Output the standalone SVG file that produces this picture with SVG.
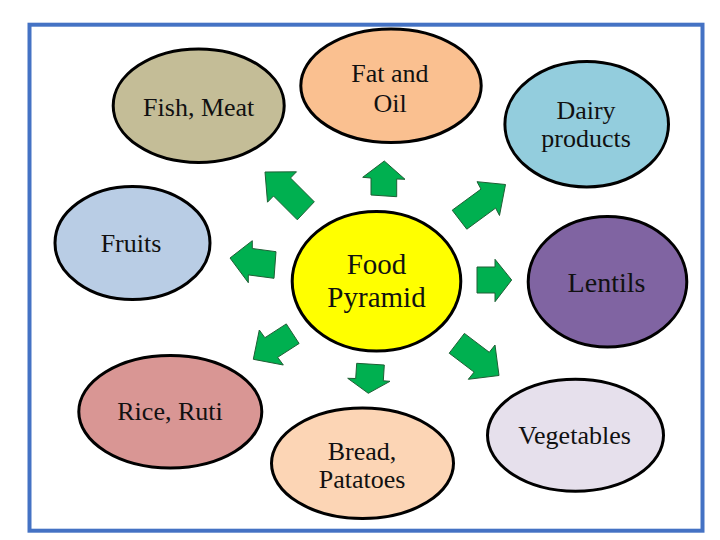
<svg xmlns="http://www.w3.org/2000/svg" width="720" height="540" viewBox="0 0 720 540">
<style>
.node{stroke:#000;stroke-width:3}
.t{font-size:26px;fill:#111;text-anchor:middle}
.big{font-size:29px}
.arr{fill:#00B050;stroke:#1F5F35;stroke-width:1;stroke-linejoin:miter}
</style>
<rect x="0" y="0" width="720" height="540" fill="#fff"/>
<rect x="29.5" y="24.7" width="673" height="506" fill="none" stroke="#4472C4" stroke-width="4"/>
<g id="connectors">
<polygon class="arr" points="384.3,161 405,179.3 396.7,179 396.7,196.7 371,195 371,178 362.7,177.3"/>
<polygon class="arr" points="265,172 296.5,171.8 290.5,178 314.3,201.8 297.3,219.8 273.5,196 267.5,202.2"/>
<polygon class="arr" points="505.5,184.5 499.5,215.5 495.6,208.1 466.8,229.2 452.2,210.2 481,189.1 477,181.7"/>
<polygon class="arr" points="230,258 252.3,240.7 252.3,248.5 276,251.7 274,278.3 248.3,274.9 248.3,282.7"/>
<polygon class="arr" points="511.7,280 495,301.7 495,293 477,293 477,267 495,267 495,259.3"/>
<polygon class="arr" points="253.3,359.3 259.3,330 264.9,337.7 286.3,323.9 299.1,343.5 277.7,357.3 283.3,365"/>
<polygon class="arr" points="368.3,393.3 347.7,378.3 355.7,378.5 356.7,363.3 384.3,365 383.3,380.8 390,381.3"/>
<polygon class="arr" points="499,375.5 468.3,379.3 474.1,372.1 449.2,353.2 464.4,333.4 489.3,352.3 495,345"/>
</g>
<g font-family="'Liberation Serif', 'DejaVu Serif', 'Times New Roman', serif">
<g id="fish"><ellipse class="node" cx="198.7" cy="105.7" rx="85.5" ry="56.8" fill="#C4BD97"/><text class="t" x="198.7" y="115.5">Fish, Meat</text></g>
<g id="fat"><ellipse class="node" cx="391" cy="85.7" rx="90.2" ry="56.8" fill="#FAC090"/><text class="t" x="390" y="82">Fat and</text><text class="t" x="390" y="111.5">Oil</text></g>
<g id="dairy"><ellipse class="node" cx="586.7" cy="124.2" rx="81.8" ry="62.7" fill="#93CDDD"/><text class="t" x="586" y="119">Dairy</text><text class="t" x="586" y="147">products</text></g>
<g id="fruits"><ellipse class="node" cx="132.5" cy="243" rx="77.5" ry="56.5" fill="#B9CDE5"/><text class="t" x="131" y="252">Fruits</text></g>
<g id="food"><ellipse class="node" cx="376.5" cy="281.3" rx="84.3" ry="69.8" fill="#FFFF00"/><text class="t big" x="376.5" y="274">Food</text><text class="t big" x="376.5" y="307.3">Pyramid</text></g>
<g id="lentils"><ellipse class="node" cx="607.5" cy="281.7" rx="79.3" ry="65.2" fill="#8064A2"/><text class="t" x="606.5" y="292" style="font-size:28px">Lentils</text></g>
<g id="rice"><ellipse class="node" cx="170.3" cy="411.7" rx="91.5" ry="56.2" fill="#D99694"/><text class="t" x="170" y="420">Rice, Ruti</text></g>
<g id="bread"><ellipse class="node" cx="362.5" cy="463.3" rx="91" ry="55.2" fill="#FCD5B5"/><text class="t" x="362" y="460">Bread,</text><text class="t" x="362" y="488.3">Patatoes</text></g>
<g id="veg"><ellipse class="node" cx="575.5" cy="435.2" rx="88" ry="56" fill="#E6E0EC"/><text class="t" x="574.5" y="444">Vegetables</text></g>
</g>
</svg>
